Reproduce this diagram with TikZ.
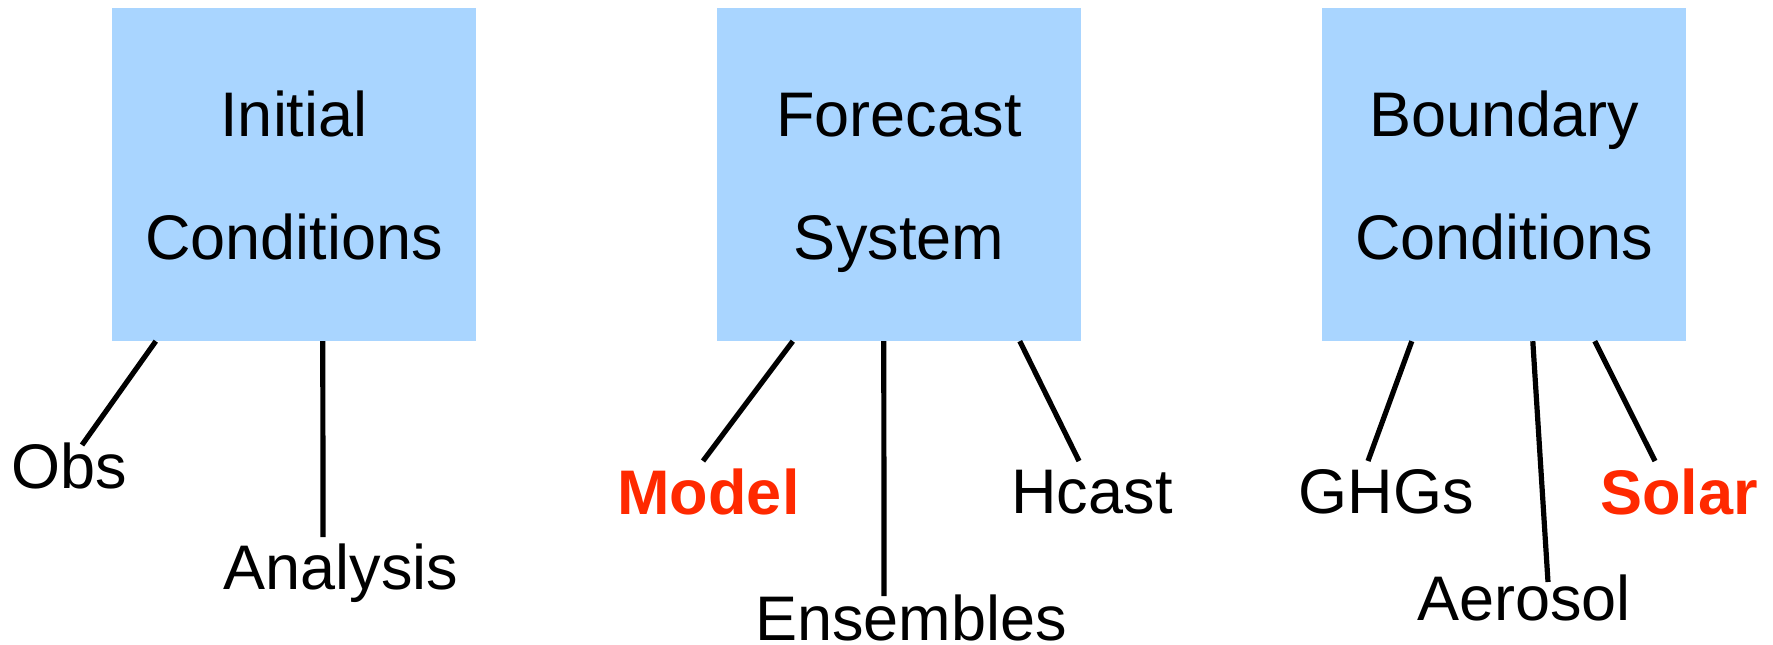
\documentclass[tikz,border=0pt]{standalone}
\usepackage{fontspec}
\setmainfont{Liberation Sans}
\usetikzlibrary{calc}
\definecolor{boxblue}{RGB}{169,213,255}
\definecolor{hotred}{RGB}{255,41,0}
\tikzset{
  panel/.style={fill=boxblue, draw=none, inner sep=0pt,
    minimum width=364pt, minimum height=333pt},
  title/.style={anchor=base, inner sep=0pt, font=\fontsize{63}{63}\selectfont},
  leaf/.style={anchor=base, inner sep=0pt, font=\fontsize{63}{63}\selectfont},
  hot/.style={leaf, text=hotred, font=\fontsize{63}{63}\selectfont\bfseries},
  link/.style={draw=black, line width=5.2pt}
}
\begin{document}
\begin{tikzpicture}[x=1pt,y=-1pt]
\useasboundingbox (0,0) rectangle (1773,645);

% the three panels
\node[panel] (ic) at (294,174.5) {};
\node[panel] (fs) at (899,174.5) {};
\node[panel] (bc) at (1504,174.5) {};

\node[title] (ic1) at (294,136) {Initial};
\node[title] (ic2) at (294,259) {Conditions};
\node[title] (fs1) at (899,136) {Forecast};
\node[title] (fs2) at (899,259) {System};
\node[title] (bc1) at (1504,136) {Boundary};
\node[title] (bc2) at (1504,259) {Conditions};

% leaves
\node[leaf] (obs) at (69,488) {Obs};
\node[leaf] (ana) at (341,589) {Analysis};
\node[hot]  (mod) at (708.5,514) {Model};
\node[leaf] (ens) at (911,640) {Ensembles};
\node[leaf] (hca) at (1092,513) {Hcast};
\node[leaf] (ghg) at (1386,513) {GHGs};
\node[leaf] (aer) at (1524,620) {Aerosol};
\node[hot]  (sol) at (1679,514) {Solar};

% free ends of the connectors, just above each leaf
\coordinate (obs-e) at (82,445);
\coordinate (ana-e) at (323,537);
\coordinate (mod-e) at (703,461);
\coordinate (ens-e) at (884,596);
\coordinate (hca-e) at (1079,461);
\coordinate (ghg-e) at (1368,461);
\coordinate (aer-e) at (1548,582);
\coordinate (sol-e) at (1655,461);

% connectors
\draw[link] ($(ic.south west)+(44,0)$)  -- (obs-e);
\draw[link] ($(ic.south west)+(211,0)$) -- (ana-e);
\draw[link] ($(fs.south west)+(76,0)$)  -- (mod-e);
\draw[link] ($(fs.south west)+(167,0)$) -- (ens-e);
\draw[link] ($(fs.south west)+(303,0)$) -- (hca-e);
\draw[link] ($(bc.south west)+(90,0)$)  -- (ghg-e);
\draw[link] ($(bc.south west)+(211,0)$) -- (aer-e);
\draw[link] ($(bc.south west)+(273,0)$) -- (sol-e);
\end{tikzpicture}
\end{document}
